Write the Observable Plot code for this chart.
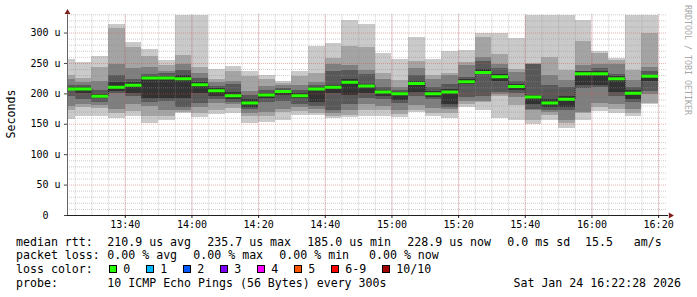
<!DOCTYPE html>
<html><head><meta charset="utf-8">
<script src="https://cdn.jsdelivr.net/npm/d3@7"></script>
<script src="https://cdn.jsdelivr.net/npm/@observablehq/plot@0.6"></script>
<style>
body{margin:0;background:#fff;}
#wrap{position:relative;width:697px;height:297px;overflow:hidden;background:#fff;}
.t{position:absolute;font-family:"DejaVu Sans Mono",monospace;font-size:11.6px;line-height:14px;white-space:pre;color:#000;}
.sq{position:absolute;width:6px;height:6px;border:1px solid #000;}
</style></head><body>
<div id="wrap"><div id="chart"></div></div>
<script>
// bar end times (5-minute steps)
const times = ["13:25","13:30","13:35","13:40","13:45","13:50","13:55","14:00","14:05","14:10",
  "14:15","14:20","14:25","14:30","14:35","14:40","14:45","14:50","14:55","15:00",
  "15:05","15:10","15:15","15:20","15:25","15:30","15:35","15:40","15:45","15:50",
  "15:55","16:00","16:05","16:10","16:15","16:20"];
// sorted ping RTTs per step (microseconds), ping1 = fastest ... ping10 = slowest
const ping10 = [256,252,262,314,284,273,255,329,329,240,245,237,230,220,237,278,283,321,314,267,256,292,256,270,271,299,299,291,329,329,329,320,269,258,329,329];
const ping9  = [230,225,244,308,277,262,247,263,243,224,237,229,224,217,228,234,258,278,277,234,222,253,230,234,252,293,265,240,250,260,238,286,267,255,238,300];
const ping8  = [224,219,221,249,241,244,237,248,234,218,220,204,212,213,213,219,249,246,238,223,211,241,223,230,247,260,248,235,249,230,222,246,248,249,222,244];
const ping7  = [214,214,205,230,224,232,233,238,226,212,216,197,205,209,206,213,237,238,232,211,206,230,210,215,227,253,241,221,249,214,211,237,241,232,210,237];
const ping6  = [210,211,199,218,218,229,229,231,219,208,202,190,201,206,201,211,214,224,216,206,203,221,204,207,223,240,232,215,198,190,195,236,237,228,205,231];
const ping5  = [206,200,192,204,200,192,192,192,201,195,190,178,192,197,193,185,200,198,200,195,189,203,194,182,215,232,220,206,183,178,178,213,214,203,191,220];
const ping4  = [195,190,186,200,195,185,187,178,184,190,186,174,186,188,183,180,173,182,192,190,184,196,190,178,194,195,202,200,175,173,172,208,211,195,186,204];
const ping3  = [180,183,181,174,182,179,173,173,178,184,182,168,170,175,178,174,167,172,182,180,173,181,176,174,187,188,199,194,172,170,157,170,184,183,174,199];
const ping2  = [172,178,176,167,171,163,162,170,167,173,176,163,162,170,171,168,163,165,172,172,166,172,167,167,182,185,195,181,156,165,152,167,177,174,167,184];
const ping1  = [158,162,162,159,162,152,157,168,161,166,167,152,153,157,164,164,160,161,163,163,161,170,163,160,178,173,159,156,149,157,143,156,171,168,163,183];
const median = [208,208,196,211,214,226,226,225,215,205,197,185,198,204,197,208,211,219,213,203,200,217,200,203,220,235,228,212,195,185,191,233,233,225,201,229];

const yTicks = [0,50,100,150,200,250,300];
const yTickLabels = ["0\u00a0\u00a0","50 u","100 u","150 u","200 u","250 u","300 u"];
const xTicks = ["13:40","14:00","14:20","14:40","15:00","15:20","15:40","16:00","16:20"];

const rttStats = ["210.9 us avg","235.7 us max","185.0 us min","228.9 us now","0.0 ms sd","15.5   am/s"];
const lossStats = ["0.00 % avg","0.00 % max","0.00 % min","0.00 % now"];
const lossLabels = ["0","1","2","3","4","5","6-9","10/10"];
const lossColors = ["#26ff00","#00b8ff","#0059ff","#7e00ff","#ff00ff","#ff5500","#ff0000","#a10000"];
const probeText = "10 ICMP Echo Pings (56 Bytes) every 300s";
const stamp = "Sat Jan 24 16:22:28 2026";

const smokeColors = ["#cacaca","#a4a4a4","#7e7e7e","#585858","#323232"];

const T = (hm, s = 0) => new Date(Date.UTC(2026, 0, 24, +hm.slice(0, 2), +hm.slice(3, 5), s));
const pings = [ping1,ping2,ping3,ping4,ping5,ping6,ping7,ping8,ping9,ping10];
const rows = times.map((s, i) => ({
  x1: new Date(T(s).getTime() - 300000), x2: T(s),
  p: pings.map(a => a[i]), med: median[i], prev: i ? median[i - 1] : median[i]
}));
const minorX = times.map(s => T(s));
const majorX = xTicks.map(s => T(s));
const xLabel = new Map(xTicks.map(s => [T(s).getTime(), s]));
const yLabel = new Map(yTicks.map((v, i) => [v, yTickLabels[i]]));
const minorY = d3.range(10, 331, 10).filter(v => v % 50 !== 0);
const majorY = yTicks.filter(v => v > 0);

const gridMinor = {stroke: "#8f8f8f", strokeOpacity: 0.45, strokeDasharray: "1,1"};
const gridMajor = {stroke: "#de4f4f", strokeOpacity: 0.45, strokeDasharray: "1,1"};

const chart = Plot.plot({
  width: 697, height: 232,
  marginLeft: 67, marginRight: 30, marginTop: 14.3, marginBottom: 17,
  style: {fontFamily: '"DejaVu Sans Mono", monospace', fontSize: "10px", background: "#fff", color: "#000", overflow: "visible"},
  x: {type: "utc", domain: [T("13:22", 40), T("16:22", 40)], axis: null, label: null},
  y: {domain: [0, 330], axis: null, label: null},
  marks: [
    ...smokeColors.map((c, k) => Plot.rect(rows, {
      x1: "x1", x2: "x2", y1: d => d.p[k], y2: d => d.p[9 - k],
      fill: c, clip: true, shapeRendering: "crispEdges"
    })),
    Plot.ruleY(minorY, gridMinor),
    Plot.ruleX(minorX, gridMinor),
    Plot.ruleY(majorY, gridMajor),
    Plot.ruleX(majorX, gridMajor),
    Plot.ruleX(rows.slice(1), {x: "x1", y1: "prev", y2: "med", stroke: "#000", strokeOpacity: 0.7, strokeDasharray: "1,1"}),
    Plot.ruleY(rows, {y: "med", x1: "x1", x2: "x2", stroke: "#26ff00", strokeWidth: 3, clip: true}),
    Plot.axisY({ticks: yTicks, tickSize: 3, tickPadding: 4, tickFormat: d => yLabel.get(d), stroke: "#444", label: null}),
    Plot.axisX({ticks: majorX, tickSize: 3, tickPadding: 2, tickFormat: d => xLabel.get(d.getTime()), stroke: "#202020", label: null}),
    Plot.frame({anchor: "left", stroke: "#666"}),
    Plot.frame({anchor: "bottom", stroke: "#202020"}),
    Plot.dot([0], {frameAnchor: "top-left", dy: -2.4, symbol: "triangle", r: 2.2, fill: "#801f1f", stroke: null}),
    Plot.dot([0], {frameAnchor: "bottom-right", dx: 3, symbol: "triangle", rotate: 90, r: 2.2, fill: "#801f1f", stroke: null})
  ]
});
document.getElementById("chart").appendChild(chart);

const wrap = document.getElementById("wrap");
function txt(s, left, cy, cls = "t") {
  const d = document.createElement("div");
  d.className = cls; d.textContent = s;
  d.style.left = left + "px"; d.style.top = (cy - 7) + "px";
  wrap.appendChild(d); return d;
}
// line 1
txt("median rtt:", 16, 241.5);
rttStats.forEach((s, i) => txt(s, i < 5 ? 107.3 + 100 * i : 585, 241.5));
// line 2
txt("packet loss:", 16, 255);
lossStats.forEach((s, i) => txt(s, i < 3 ? 107.3 + 86 * i : 369, 255));
// line 3 (loss colour legend)
txt("loss color:", 16, 269);
let sx = 108.7;
lossLabels.forEach((lab, i) => {
  const q = document.createElement("div");
  q.className = "sq"; q.style.background = lossColors[i];
  q.style.left = sx + "px"; q.style.top = "265px";
  wrap.appendChild(q);
  txt(lab, sx + 14.6, 269);
  sx += 14.6 + 7 * lab.length + 15.4;
});
// line 4
txt("probe:", 16, 283);
txt(probeText, 107.3, 283);
const st = txt(stamp, 0, 283); st.style.left = "auto"; st.style.right = "16px";

// y axis title
const yt = document.createElement("div");
yt.className = "t"; yt.textContent = "Seconds";
Object.assign(yt.style, {left: "11px", top: "113.5px", transform: "translate(-50%,-50%) rotate(-90deg)"});
wrap.appendChild(yt);
// watermark
const wm = document.createElement("div");
wm.className = "t"; wm.textContent = "RRDTOOL / TOBI OETIKER";
Object.assign(wm.style, {left: "688px", top: "60px", fontSize: "8.3px", color: "#a8a8a8", transform: "translate(-50%,-50%) rotate(90deg)"});
wrap.appendChild(wm);
</script>
</body></html>
